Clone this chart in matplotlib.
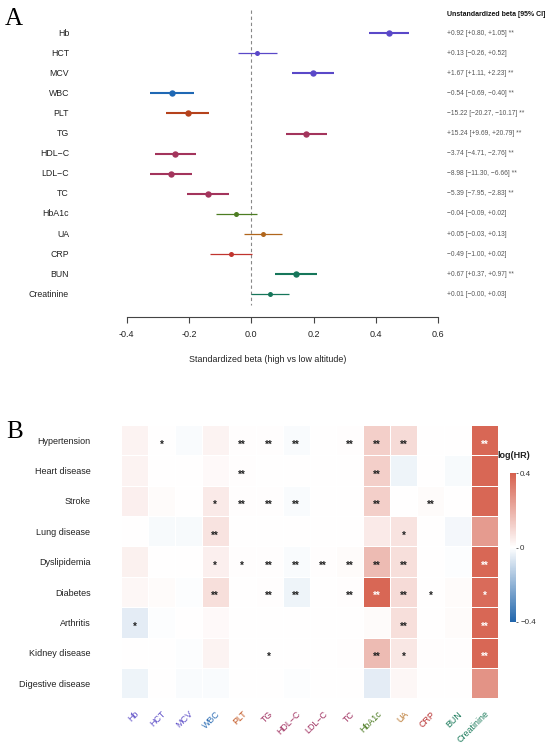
import numpy as np
import matplotlib
matplotlib.use("Agg")
import matplotlib.pyplot as plt
from matplotlib.colors import LinearSegmentedColormap
from matplotlib.cm import ScalarMappable
from matplotlib.colors import Normalize

plt.rcParams['font.family'] = ['Liberation Sans', 'DejaVu Sans']

# ---------------- Panel A data ----------------
markers = ["Hb", "HCT", "MCV", "WBC", "PLT", "TG", "HDL−C", "LDL−C", "TC",
           "HbA1c", "UA", "CRP", "BUN", "Creatinine"]
std_beta = [0.441, 0.019, 0.198, -0.256, -0.204, 0.176, -0.244, -0.258, -0.140,
            -0.048, 0.037, -0.066, 0.142, 0.059]
std_lo = [0.378, -0.043, 0.130, -0.324, -0.273, 0.110, -0.308, -0.325, -0.206,
          -0.114, -0.024, -0.133, 0.076, -0.002]
std_hi = [0.505, 0.083, 0.266, -0.185, -0.136, 0.244, -0.178, -0.190, -0.073,
          0.019, 0.099, 0.001, 0.210, 0.121]
unstd_beta = [0.92, 0.13, 1.67, -0.54, -15.22, 15.24, -3.74, -8.98, -5.39,
              -0.04, 0.05, -0.49, 0.67, 0.01]
unstd_lo = [0.80, -0.26, 1.11, -0.69, -20.27, 9.69, -4.71, -11.30, -7.95,
            -0.09, -0.03, -1.00, 0.37, -0.004]
unstd_hi = [1.05, 0.52, 2.23, -0.40, -10.17, 20.79, -2.76, -6.66, -2.83,
            0.02, 0.13, 0.02, 0.97, 0.03]
signif = ["**", "", "**", "**", "**", "**", "**", "**", "**", "", "", "", "**", ""]
marker_colors = ["#5a48c8", "#5a48c8", "#5a48c8", "#1f68b4", "#b5421c",
                 "#a3345c", "#a3345c", "#a3345c", "#a3345c", "#4d7d22",
                 "#b0661c", "#c0342e", "#16765a", "#16765a"]
x_ticks_A = [-0.4, -0.2, 0.0, 0.2, 0.4, 0.6]

# ---------------- Panel B data ----------------
diseases = ["Hypertension", "Heart disease", "Stroke", "Lung disease",
            "Dyslipidemia", "Diabetes", "Arthritis", "Kidney disease",
            "Digestive disease"]
# columns follow `markers`
loghr = np.array([
    # Hb    HCT    MCV    WBC    PLT    TG     HDL    LDL    TC     HbA1c  UA     CRP    BUN    Creat
    [0.030, 0.000, -0.010, 0.030, 0.005, 0.005, -0.010, 0.000, 0.005, 0.120, 0.090, 0.000, 0.000, 0.380],
    [0.030, 0.000, 0.000, 0.015, 0.005, 0.000, 0.000, 0.000, 0.000, 0.120, -0.030, 0.000, -0.015, 0.380],
    [0.040, 0.010, 0.000, 0.050, 0.005, 0.005, -0.010, 0.000, 0.000, 0.120, 0.000, 0.010, 0.000, 0.380],
    [0.000, -0.015, -0.015, 0.070, 0.000, 0.000, 0.000, 0.000, 0.000, 0.050, 0.070, 0.000, -0.020, 0.250],
    [0.035, 0.000, 0.000, 0.040, 0.005, 0.005, -0.010, 0.005, 0.010, 0.170, 0.080, 0.000, -0.005, 0.380],
    [0.020, 0.010, -0.005, 0.080, 0.000, 0.005, -0.030, 0.000, 0.005, 0.380, 0.090, 0.000, 0.010, 0.370],
    [-0.050, -0.005, 0.000, 0.015, 0.000, 0.000, 0.000, 0.000, 0.000, 0.010, 0.080, 0.000, 0.010, 0.380],
    [0.000, 0.000, -0.005, 0.030, 0.000, 0.000, 0.000, 0.000, 0.005, 0.170, 0.060, 0.005, 0.005, 0.380],
    [-0.030, 0.000, -0.010, -0.010, 0.000, 0.000, -0.005, 0.000, 0.000, -0.050, 0.020, 0.000, 0.000, 0.270],
])
stars = [
    ["", "*", "", "", "**", "**", "**", "", "**", "**", "**", "", "", "**"],
    ["", "", "", "", "**", "", "", "", "", "**", "", "", "", ""],
    ["", "", "", "*", "**", "**", "**", "", "", "**", "", "**", "", ""],
    ["", "", "", "**", "", "", "", "", "", "", "*", "", "", ""],
    ["", "", "", "*", "*", "**", "**", "**", "**", "**", "**", "", "", "**"],
    ["", "", "", "**", "", "**", "**", "", "**", "**", "**", "*", "", "*"],
    ["*", "", "", "", "", "", "", "", "", "", "**", "", "", "**"],
    ["", "", "", "", "", "*", "", "", "", "**", "*", "", "", "**"],
    ["", "", "", "", "", "", "", "", "", "", "", "", "", ""],
]
label_colors = ["#5f50c8", "#5f50c8", "#5f50c8", "#2f6fb5", "#c0501a",
                "#a03060", "#a03060", "#a03060", "#a03060", "#4a7a20",
                "#b8742a", "#b83030", "#1a7a5a", "#1a7a5a"]

W, H = 550, 748
fig = plt.figure(figsize=(W / 100, H / 100), dpi=100)

def fx(px):
    return px / W

def fy(py):
    return 1 - py / H

# ---------------- Panel A ----------------
axA = fig.add_axes([fx(126.7), fy(316.7), fx(311.6), fy(8.9) - fy(316.7)])
n = len(markers)
ypos = np.arange(n)
axA.set_xlim(-0.4, 0.6)
axA.set_ylim(14.11, -1.2)
axA.vlines(0, -1.15, 13.55, colors="#888888", linestyles=(0, (3, 2.5)), lw=0.8)


def fmt(v):
    return f"{v:+.2f}".replace("-", "−")


for i in range(n):
    big = signif[i] == "**"
    axA.plot([std_lo[i], std_hi[i]], [ypos[i], ypos[i]], color=marker_colors[i],
             lw=1.5 if big else 0.9, solid_capstyle="butt", clip_on=False)
    axA.plot(std_beta[i], ypos[i], "o", color=marker_colors[i],
             ms=4.6 if big else 3.6, mew=0, clip_on=False)
    axA.text(-0.185, ypos[i], markers[i], transform=axA.get_yaxis_transform(),
             ha="right", va="center", fontsize=6.3, color="#222222")
    s = f"{fmt(unstd_beta[i])} [{fmt(unstd_lo[i])}, {fmt(unstd_hi[i])}]"
    if signif[i]:
        s += " " + signif[i]
    axA.text(1.027, ypos[i], s, transform=axA.get_yaxis_transform(),
             ha="left", va="center", fontsize=4.8, color="#555555")
axA.text(1.027, -0.9, "Unstandardized beta [95% CI]", transform=axA.get_yaxis_transform(),
         ha="left", va="center", fontsize=5.0, fontweight="bold", color="#111111")

for sp in ["top", "right", "left"]:
    axA.spines[sp].set_visible(False)
axA.spines["bottom"].set_color("#444444")
axA.spines["bottom"].set_linewidth(0.8)
axA.set_yticks([])
axA.set_xticks(x_ticks_A)
axA.set_xticklabels([f"{t:.1f}" for t in x_ticks_A])
axA.tick_params(axis="x", length=4.5, width=0.8, color="#444444", pad=5,
                labelsize=6.5, labelcolor="#222222")
fig.text(fx(268), fy(360), "Standardized beta (high vs low altitude)", ha="center",
         va="center", fontsize=6.4, color="#222222")

fig.text(fx(5), fy(25), "A", fontsize=18, family="Liberation Serif", ha="left",
         va="baseline")

# ---------------- Panel B ----------------
cmap = LinearSegmentedColormap.from_list("bwr_custom", ["#2166ac", "#ffffff", "#d6604d"])
axB = fig.add_axes([fx(121), fy(698.3), fx(377), fy(425) - fy(698.3)])
nr, nc = loghr.shape
axB.pcolormesh(np.arange(nc + 1), np.arange(nr + 1), loghr, cmap=cmap,
               vmin=-0.4, vmax=0.4, edgecolors="white", linewidth=0.7)
axB.set_xlim(0, nc)
axB.set_ylim(nr, 0)
for i in range(nr):
    for j in range(nc):
        if stars[i][j]:
            c = "white" if loghr[i, j] > 0.3 else "#222222"
            axB.text(j + 0.5, i + 0.64, stars[i][j], ha="center", va="center",
                     fontsize=7, fontweight="bold", color=c)
for sp in axB.spines.values():
    sp.set_visible(False)
axB.set_yticks(np.arange(nr) + 0.5)
axB.set_yticklabels(diseases, fontsize=6.5, color="#222222")
axB.set_xticks(np.arange(nc) + 0.5)
axB.set_xticklabels(markers, fontsize=6.4, rotation=45, ha="right",
                    rotation_mode="anchor")
for lbl, c in zip(axB.get_xticklabels(), label_colors):
    lbl.set_color(c)
axB.tick_params(axis="y", length=0, pad=22)
axB.tick_params(axis="x", length=0, pad=8)

cax = fig.add_axes([fx(510), fy(622), fx(6), fy(473) - fy(622)])
sm = ScalarMappable(norm=Normalize(-0.4, 0.4), cmap=cmap)
cb = fig.colorbar(sm, cax=cax, ticks=[-0.4, 0, 0.4])
cb.outline.set_visible(False)
cb.ax.set_yticklabels(["−0.4", "0", "0.4"])
cb.ax.tick_params(labelsize=5.8, length=1.5, width=0.5, pad=1.5, colors="#333333")
fig.text(fx(497), fy(456), "log(HR)", fontsize=6.5, fontweight="bold", ha="left",
         va="center", color="#222222")

fig.text(fx(6), fy(438), "B", fontsize=18, family="Liberation Serif", ha="left",
         va="baseline")

fig.savefig("out.png", dpi=100)
